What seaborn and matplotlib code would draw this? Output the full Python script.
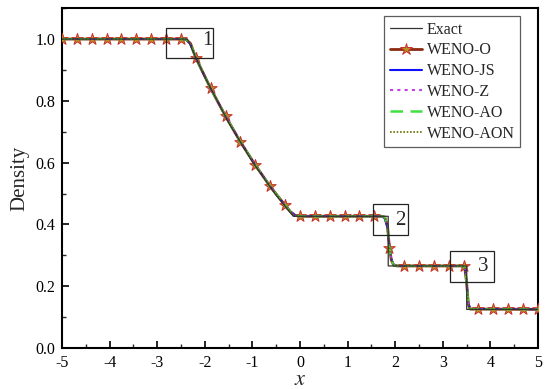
import matplotlib
matplotlib.use("Agg")
import matplotlib.pyplot as plt
from matplotlib.patches import Rectangle
from matplotlib.lines import Line2D
from matplotlib.ticker import MultipleLocator
import seaborn as sns
import pandas as pd

# ---- data ----
x_exact = [-5.0, -2.3664, -2.0, -1.5, -1.0, -0.5, -0.1401, 1.8549, 1.8549, 3.504, 3.504, 5.0]
rho_exact = [1.0, 1.0, 0.8775, 0.7300, 0.6030, 0.4943, 0.4263, 0.4263, 0.2656, 0.2656, 0.125, 0.125]

x_num = [-5.0, -2.5, -2.4, -2.3, -2.1875, -1.875, -1.5625, -1.25, -0.9375, -0.625, -0.3125,
         -0.2, -0.1, 0.0, 1.70, 1.78, 1.84, 1.88, 1.92, 1.97, 2.05, 3.40, 3.46, 3.50, 3.54, 3.58, 5.0]
rho_weno_o = [1.0, 1.0, 0.999, 0.986, 0.939, 0.840, 0.750, 0.667, 0.592, 0.523, 0.462,
              0.441, 0.429, 0.4263, 0.4263, 0.424, 0.395, 0.325, 0.285, 0.268, 0.2656, 0.2656, 0.262, 0.215, 0.140, 0.126, 0.125]
rho_weno_js = [1.0, 1.0, 0.998, 0.984, 0.938, 0.840, 0.750, 0.667, 0.592, 0.523, 0.462,
               0.442, 0.430, 0.4265, 0.4263, 0.420, 0.385, 0.330, 0.290, 0.270, 0.2660, 0.2656, 0.261, 0.220, 0.145, 0.127, 0.125]
rho_weno_z = [1.0, 1.0, 0.999, 0.985, 0.939, 0.840, 0.750, 0.667, 0.592, 0.523, 0.462,
              0.441, 0.429, 0.4264, 0.4263, 0.423, 0.392, 0.327, 0.287, 0.269, 0.2658, 0.2656, 0.262, 0.217, 0.142, 0.126, 0.125]
rho_weno_ao = [1.0, 1.0, 0.999, 0.986, 0.939, 0.840, 0.750, 0.667, 0.592, 0.523, 0.462,
               0.441, 0.429, 0.4263, 0.4263, 0.424, 0.394, 0.326, 0.286, 0.268, 0.2657, 0.2656, 0.262, 0.216, 0.141, 0.126, 0.125]
rho_weno_aon = [1.0, 1.0, 0.999, 0.986, 0.939, 0.840, 0.750, 0.667, 0.592, 0.523, 0.462,
                0.441, 0.429, 0.4263, 0.4263, 0.424, 0.395, 0.325, 0.285, 0.268, 0.2656, 0.2656, 0.262, 0.215, 0.140, 0.126, 0.125]

x_mark = [-5.0, -4.6875, -4.375, -4.0625, -3.75, -3.4375, -3.125, -2.8125, -2.5, -2.1875,
          -1.875, -1.5625, -1.25, -0.9375, -0.625, -0.3125, 0.0, 0.3125, 0.625, 0.9375,
          1.25, 1.5625, 1.875, 2.1875, 2.5, 2.8125, 3.125, 3.4375, 3.75, 4.0625, 4.375, 4.6875, 5.0]
rho_mark = [1.0, 1.0, 1.0, 1.0, 1.0, 1.0, 1.0, 1.0, 1.0, 0.939,
            0.840, 0.750, 0.667, 0.592, 0.523, 0.462, 0.4263, 0.4263, 0.4263, 0.4263,
            0.4263, 0.4263, 0.325, 0.2656, 0.2656, 0.2656, 0.2656, 0.2656, 0.125, 0.125, 0.125, 0.125, 0.125]

box_labels = ["1", "2", "3"]
box_x0 = [-2.815, 1.53, 3.15]
box_x1 = [-1.83, 2.27, 4.08]
box_y0 = [0.939, 0.365, 0.213]
box_y1 = [1.035, 0.465, 0.313]
label_x = [-1.95, 2.10, 3.84]
label_y = [0.994, 0.412, 0.265]

# ---- style ----
sns.set_theme(style="ticks")
plt.rcParams['font.family'] = ['Liberation Serif', 'DejaVu Serif']
plt.rcParams['mathtext.fontset'] = 'stix'
plt.rcParams['axes.unicode_minus'] = False

fig = plt.figure(figsize=(5.5, 3.89), dpi=100)
ax = fig.add_axes([0.1127, 0.1054, 0.8653, 0.8736])

c_o_line = '#8b2a10'
c_star_face = '#b89020'
c_star_edge = '#c8302a'

sns.lineplot(x=x_num, y=rho_weno_o, ax=ax, color=c_o_line, lw=2.0, sort=False, estimator=None)
sns.scatterplot(x=x_mark, y=rho_mark, ax=ax, marker='*', s=75, color=c_star_face,
                edgecolor=c_star_edge, linewidth=0.7, zorder=3)
sns.lineplot(x=x_num, y=rho_weno_js, ax=ax, color='#1010ff', lw=1.2, sort=False, estimator=None, zorder=4)
sns.lineplot(x=x_num, y=rho_weno_z, ax=ax, color='#c040e0', lw=1.2, ls=(0, (1.5, 2)), sort=False, estimator=None, zorder=4)
sns.lineplot(x=x_num, y=rho_weno_ao, ax=ax, color='#40e040', lw=1.5, ls=(0, (5, 3)), sort=False, estimator=None, zorder=4)
sns.lineplot(x=x_num, y=rho_weno_aon, ax=ax, color='#6b6b00', lw=1.2, ls=(0, (1, 1)), sort=False, estimator=None, zorder=4)
sns.lineplot(x=x_exact, y=rho_exact, ax=ax, color='#333333', lw=0.9, sort=False, estimator=None, zorder=5)

for i, lab in enumerate(box_labels):
    ax.add_patch(Rectangle((box_x0[i], box_y0[i]), box_x1[i] - box_x0[i], box_y1[i] - box_y0[i],
                           fill=False, edgecolor='#222222', lw=0.9, zorder=6))
    ax.text(label_x[i], label_y[i], lab, fontsize=15, ha='center', va='center', zorder=7)

ax.set_xlim(-5, 5)
ax.set_ylim(0, 1.1)
ax.xaxis.set_major_locator(MultipleLocator(1))
ax.xaxis.set_minor_locator(MultipleLocator(0.5))
ax.yaxis.set_major_locator(MultipleLocator(0.2))
ax.yaxis.set_minor_locator(MultipleLocator(0.1))
ax.tick_params(which='major', direction='in', length=5, width=1.2, labelsize=11.5, colors='black', pad=5)
ax.tick_params(which='minor', direction='in', length=3, width=1.0)
ax.tick_params(top=False, right=False, which='both')
ax.yaxis.set_major_formatter(matplotlib.ticker.FormatStrFormatter('%.1f'))
for sp in ax.spines.values():
    sp.set_visible(True)
    sp.set_linewidth(1.5)
    sp.set_color('black')

ax.set_xlabel(r'$x$', fontsize=16, labelpad=0)
ax.set_ylabel('Density', fontsize=15, labelpad=4)

handles = [
    Line2D([], [], color='#333333', lw=0.9),
    Line2D([], [], color=c_o_line, lw=2.0, marker='*', markersize=9,
           markerfacecolor=c_star_face, markeredgecolor=c_star_edge, markeredgewidth=0.7),
    Line2D([], [], color='#1010ff', lw=1.5),
    Line2D([], [], color='#c040e0', lw=1.5, ls=(0, (1.5, 2))),
    Line2D([], [], color='#40e040', lw=1.8, ls=(0, (5, 3))),
    Line2D([], [], color='#6b6b00', lw=1.2, ls=(0, (1, 1))),
]
labels = ['Exact', 'WENO-O', 'WENO-JS', 'WENO-Z', 'WENO-AO', 'WENO-AON']
leg = ax.legend(handles, labels, loc='upper right', bbox_to_anchor=(0.963, 0.977),
                fontsize=11.5, frameon=True, fancybox=False, edgecolor='#333333',
                handlelength=2.0, handletextpad=0.3, labelspacing=0.3, borderpad=0.35,
                borderaxespad=0.0)
leg.get_frame().set_linewidth(0.9)

fig.savefig('out.png', dpi=100)
